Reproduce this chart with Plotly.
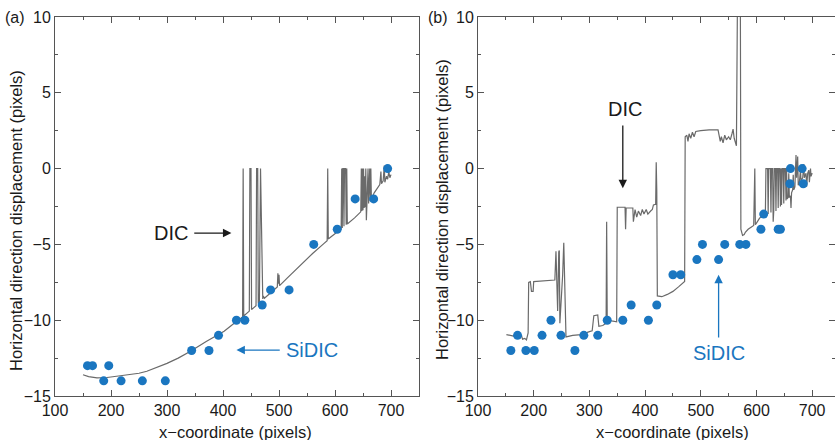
import plotly.graph_objects as go

# ---------------- data ----------------
# Panel (a): SiDIC points
a_sidic_x = [158, 167, 187, 196, 218, 256, 297, 344, 375, 392, 424, 439, 470, 485, 518, 562, 604, 636, 669, 694]
a_sidic_y = [-13, -13, -14, -13, -14, -14, -14, -12, -12, -11, -10, -10, -9, -8, -8, -5, -4, -2, -2, 0]

# Panel (a): DIC trace (vertices)
a_dic_x = [150, 160, 175, 193, 220, 250, 264, 280, 300, 320, 342, 370, 402, 420, 432,
           435, 436, 437, 447, 448, 450, 451, 459, 460, 462, 463, 465, 466, 467, 471, 472, 474,
           490, 497, 498, 499, 500, 501, 515, 539, 560, 580, 586, 587, 588, 593, 605,
           611, 612, 613, 614, 615, 616, 617, 619, 620, 621, 622, 635,
           646, 647, 648, 649, 650, 651, 652, 653, 654, 655, 656, 657, 659, 660, 662, 663, 664, 665,
           670, 675, 680, 682, 683, 686, 688, 689, 692, 694, 696, 698, 700]
a_dic_y = [-13.6, -13.72, -13.8, -13.78, -13.65, -13.5, -13.37, -13.15, -12.85, -12.5, -12.05, -11.4, -10.73, -10.2, -9.85,
           -9.78, 0, -9.72, -9.4, 0, 0, -9.3, -9.05, 0, 0, -8.9, -8.85, 0, 0, -8.6, -8.4, -8.55,
           -8.0, -7.8, -6.9, -7.6, -7.0, -7.72, -7.21, -6.33, -5.6, -4.95, -4.75, 0, -4.65, -4.5, -4.15,
           -3.98, 0, -3.92, 0, 0, -3.8, 0, 0, -3.7, 0, -3.65, -3.25,
           -2.85, 0, -2.8, 0, -2.75, 0, -2.6, -0.5, -2.55, 0, -3.4, -2.35, 0, -2.3, 0, -2.15, 0, -2.0,
           -1.6, -1.3, -1.05, -0.2, -1.0, -0.8, 0.2, -0.9, -0.5, -0.7, -0.2, -0.6, -0.4]

# Panel (b): SiDIC points
b_sidic_x = [159, 171, 186, 201, 215, 231, 249, 274, 290, 315, 332, 360, 375, 406, 421, 450, 464,
             493, 503, 532, 543, 570, 581, 608, 639, 643, 613, 661, 682, 660, 684]
b_sidic_y = [-12, -11, -12, -12, -11, -10, -11, -12, -11, -11, -10, -10, -9, -10, -9, -7, -7,
             -6, -5, -6, -5, -5, -5, -4, -4, -4, -3, 0, 0, -1, -1]

# Panel (b): DIC trace
b_dic_x = [151, 160, 170, 175, 178, 180, 184, 187, 189, 190, 191, 194, 196, 199, 200, 215, 238,
           240, 242, 243, 245, 246, 247, 249, 252, 254, 256, 258, 270, 285, 300, 305, 308, 315, 317,
           324, 330, 331, 332, 333, 340, 349, 350, 364, 365, 366, 378, 379, 382, 385, 388, 392, 395,
           398, 402, 405, 410, 413, 415, 419, 420, 421, 422, 430, 440, 450, 460, 471,
           472, 475, 477, 479, 482, 485, 488, 491, 500, 515, 531, 533, 535, 537, 540, 543, 546, 550,
           553, 556, 558, 560, 563, 564, 566, 571, 572,
           573, 575, 578, 580, 585, 590, 595, 597, 598, 600, 605, 610, 615,
           616, 617, 620, 621, 622, 625, 626, 627, 629, 630, 631, 632, 634, 635, 636, 638, 639, 640,
           642, 643, 644, 645, 646, 648, 649, 650, 652, 653, 654, 655, 657, 658, 659, 661, 662, 663,
           665, 666, 667, 669, 671, 672, 674, 675, 677, 679, 680, 683, 685, 686, 689, 690, 692, 694,
           695, 697, 698, 700]
b_dic_y = [-10.95, -11.0, -11.1, -11.17, -11.0, -11.25, -11.2, -11.3, -10.9, -10.84, -7.5, -7.45, -8.1, -8.1, -7.45, -7.4, -7.35,
           -5.45, -9.0, -9.4, -5.5, -5.4, -10.2, -9.0, -7.0, -4.9, -7.5, -11.1, -11.0, -10.95, -10.75, -10.7, -9.7, -9.65, -10.4,
           -10.35, -10.2, -3.5, -9.8, -10.0, -10.05, -10.1, -2.55, -2.55, -4.0, -2.6, -2.6, -3.5, -2.7, -3.2, -2.8, -3.1, -2.7,
           -3.0, -2.7, -3.0, -2.8, -2.7, -2.4, -2.35, 0.42, -1.5, -8.4, -8.45, -8.3, -8.1, -7.8, -7.45,
           2.1, 2.2, 1.8, 2.3, 2.0, 2.4, 2.1, 2.45, 2.5, 2.55, 2.55, 2.0, 1.8, 2.1, 1.7, 2.2, 1.9, 2.1,
           1.9, 2.3, 2.6, 2.0, 1.6, 1.5, 12, 12, -4.0,
           -4.2, -4.4, -4.35, -4.2, -4.0, -3.9, -3.75, 0, -3.7, -3.6, -3.3, -3.1, -3.0,
           -3.0, 0, 0, -3.0, 0, 0, -2.9, 0, 0, -3.5, -2.8, 0, 0, -2.8, 0, 0, -2.6, 0,
           0, -2.5, 0, -2.4, 0, 0, -2.3, 0, 0, -2.1, 0, -2.0, -1.9, -0.3, -1.9, -1.8, -2.6, -1.6,
           -1.4, -0.4, -1.4, -1.2, 0.9, -0.6, 0.8, -1.1, -0.9, -0.1, -0.8, -0.6, 0.3, -0.6, -0.3, -1.2, -0.3, -0.1,
           -0.9, 0.0, -0.5, -0.3]

x_tick_vals = [100, 200, 300, 400, 500, 600, 700]
y_tick_vals = [-15, -10, -5, 0, 5, 10]

# ---------------- style ----------------
BLUE = "#1a76c0"
GREY = "#6a6a6a"
AXIS = "#555555"
TXT = "#1a1a1a"
FONT = "Liberation Sans, Arial, sans-serif"

fig = go.Figure()
fig.add_trace(go.Scatter(x=a_dic_x, y=a_dic_y, mode="lines", line=dict(color=GREY, width=1.2),
                         xaxis="x", yaxis="y", showlegend=False))
fig.add_trace(go.Scatter(x=a_sidic_x, y=a_sidic_y, mode="markers", marker=dict(color=BLUE, size=9),
                         xaxis="x", yaxis="y", showlegend=False))
fig.add_trace(go.Scatter(x=b_dic_x, y=b_dic_y, mode="lines", line=dict(color=GREY, width=1.2),
                         xaxis="x2", yaxis="y2", showlegend=False))
fig.add_trace(go.Scatter(x=b_sidic_x, y=b_sidic_y, mode="markers", marker=dict(color=BLUE, size=9),
                         xaxis="x2", yaxis="y2", showlegend=False))

W, H = 835, 440
ML, MR, MT, MB = 0, 0, 17, 44
PH = H - MT - MB


def px(xp):
    return xp / W


def py(yp):
    return (H - MB - yp) / PH


def xaxis(domain, rng, anchor):
    return dict(domain=domain, range=rng, anchor=anchor, showline=True, linecolor=AXIS, linewidth=1,
                mirror="ticks", ticks="inside", ticklen=6, tickcolor=AXIS, tickwidth=1,
                tickvals=x_tick_vals, showgrid=False, zeroline=False, automargin=False,
                tickfont=dict(size=16, color=TXT, family=FONT),
                minor=dict(ticks="inside", ticklen=3, dtick=50, tick0=100, tickcolor=AXIS, showgrid=False))


def yaxis(anchor):
    return dict(domain=[0, 1], range=[-15, 10], anchor=anchor, showline=True, linecolor=AXIS, linewidth=1,
                mirror="ticks", ticks="inside", ticklen=6, tickcolor=AXIS, tickwidth=1,
                tickvals=y_tick_vals, showgrid=False, zeroline=False, automargin=False,
                tickfont=dict(size=16, color=TXT, family=FONT),
                minor=dict(ticks="inside", ticklen=3, dtick=2.5, tick0=0, tickcolor=AXIS, showgrid=False))


fig.update_layout(
    width=W, height=H, margin=dict(l=ML, r=MR, t=MT, b=MB, autoexpand=False),
    paper_bgcolor="white", plot_bgcolor="white",
    font=dict(family=FONT, color=TXT, size=16),
    xaxis=xaxis([55 / W, 419 / W], [100, 750], "y"),
    yaxis=yaxis("x"),
    xaxis2=xaxis([478 / W, 1.0], [100, 741], "y2"),
    yaxis2=yaxis("x2"),
)

ann = []
# axis titles
ann.append(dict(text="x\u2212coordinate (pixels)", xref="paper", yref="paper", x=px(235), y=py(432),
                showarrow=False, font=dict(size=16.5), xanchor="center", yanchor="middle"))
ann.append(dict(text="x\u2212coordinate (pixels)", xref="paper", yref="paper", x=px(672), y=py(432),
                showarrow=False, font=dict(size=16.5), xanchor="center", yanchor="middle"))
ann.append(dict(text="Horizontal direction displacement (pixels)", xref="paper", yref="paper",
                x=px(16), y=py(221), textangle=-90, showarrow=False, font=dict(size=16.5),
                xanchor="center", yanchor="middle"))
ann.append(dict(text="Horizontal direction displacement (pixels)", xref="paper", yref="paper",
                x=px(442), y=py(210), textangle=-90, showarrow=False, font=dict(size=16.5),
                xanchor="center", yanchor="middle"))
# panel labels
ann.append(dict(text="(a)", xref="paper", yref="paper", x=px(15), y=py(17), showarrow=False,
                font=dict(size=16), xanchor="center", yanchor="middle"))
ann.append(dict(text="(b)", xref="paper", yref="paper", x=px(438), y=py(17), showarrow=False,
                font=dict(size=16), xanchor="center", yanchor="middle"))
# panel (a) callouts
ann.append(dict(text="DIC", xref="x", yref="y", x=307, y=-4.25, showarrow=False,
                font=dict(size=20, color=TXT), xanchor="center", yanchor="middle"))
ann.append(dict(text="", xref="x", yref="y", x=415, y=-4.25, axref="x", ayref="y", ax=346, ay=-4.25,
                showarrow=True, arrowhead=2, arrowsize=1.3, arrowwidth=1.3, arrowcolor=TXT))
ann.append(dict(text="SiDIC", xref="x", yref="y", x=559, y=-11.97, showarrow=False,
                font=dict(size=20, color=BLUE), xanchor="center", yanchor="middle"))
ann.append(dict(text="", xref="x", yref="y", x=424, y=-11.97, axref="x", ayref="y", ax=504, ay=-11.97,
                showarrow=True, arrowhead=2, arrowsize=1.3, arrowwidth=1.3, arrowcolor=BLUE))
# panel (b) callouts
ann.append(dict(text="DIC", xref="x2", yref="y2", x=364, y=3.93, showarrow=False,
                font=dict(size=20, color=TXT), xanchor="center", yanchor="middle"))
ann.append(dict(text="", xref="x2", yref="y2", x=360, y=-1.3, axref="x2", ayref="y2", ax=360, ay=2.94,
                showarrow=True, arrowhead=2, arrowsize=1.3, arrowwidth=1.3, arrowcolor=TXT))
ann.append(dict(text="SiDIC", xref="x2", yref="y2", x=533, y=-12.16, showarrow=False,
                font=dict(size=20, color=BLUE), xanchor="center", yanchor="middle"))
ann.append(dict(text="", xref="x2", yref="y2", x=532, y=-7.0, axref="x2", ayref="y2", ax=532, ay=-11.24,
                showarrow=True, arrowhead=2, arrowsize=1.3, arrowwidth=1.3, arrowcolor=BLUE))
fig.update_layout(annotations=ann)

fig.write_html("out.html", config={"displayModeBar": False},
               post_script="document.body.style.margin='0';document.body.style.overflow='hidden';")
